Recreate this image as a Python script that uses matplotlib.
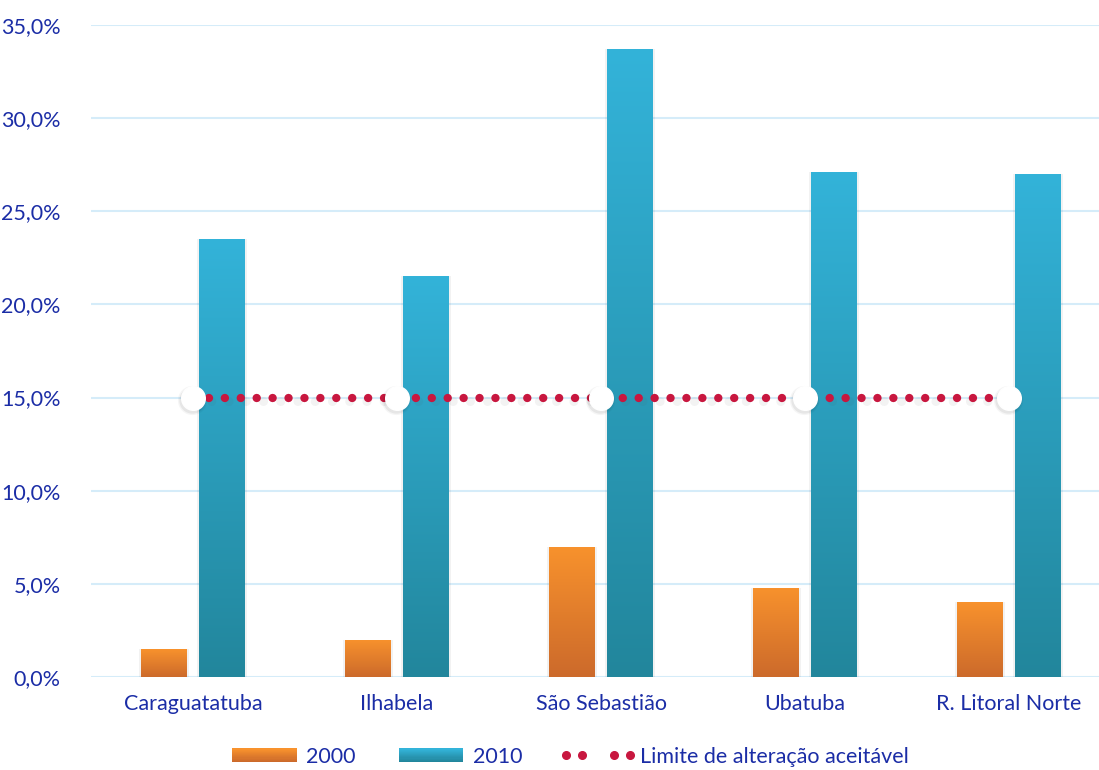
import numpy as np
import matplotlib.pyplot as plt
from matplotlib.patches import Rectangle
from matplotlib.legend_handler import HandlerBase
from matplotlib.lines import Line2D
from matplotlib.colors import LinearSegmentedColormap
from matplotlib.ticker import FuncFormatter

plt.rcParams['font.family'] = ['Lato', 'DejaVu Sans']

# Dados
municipios = ['Caraguatatuba', 'Ilhabela', 'São Sebastião', 'Ubatuba', 'R. Litoral Norte']
valores_2000 = [1.5, 2.0, 7.0, 4.8, 4.0]
valores_2010 = [23.5, 21.5, 33.7, 27.1, 27.0]
limite = [15.0, 15.0, 15.0, 15.0, 15.0]
rotulos_series = ['2000', '2010', 'Limite de alteração aceitável']

cor_texto = '#1B2DA6'
cor_grade = '#D5ECF9'
laranja = ('#F8922D', '#CC6A2B')   # topo, base
azul = ('#33B3D9', '#22869C')
vermelho = '#C8173F'

fig = plt.figure(figsize=(10.99, 7.70), dpi=100)
ax = fig.add_axes([91 / 1099, 93 / 770, 1020 / 1099, 652 / 770])

x = np.arange(len(municipios))
largura = 0.225
deslocamento = 0.144


def barra_gradiente(ax, xc, altura, cores):
    cmap = LinearSegmentedColormap.from_list('g', [cores[1], cores[0]])
    grad = np.linspace(0, 1, 256).reshape(-1, 1)
    x0 = xc - largura / 2
    # sombra leve nas laterais
    for dx in (-0.01, 0.01):
        sombra = Rectangle((x0 + dx, 0), largura, altura, facecolor='#000000',
                           alpha=0.05, edgecolor='none', zorder=2)
        ax.add_patch(sombra)
    img = ax.imshow(grad, extent=(x0, x0 + largura, 0, altura), origin='lower',
                    cmap=cmap, aspect='auto', zorder=3)
    ret = Rectangle((x0, 0), largura, altura, facecolor='none', edgecolor='none')
    ax.add_patch(ret)
    img.set_clip_path(ret)


for i in x:
    barra_gradiente(ax, i - deslocamento, valores_2000[i], laranja)
    barra_gradiente(ax, i + deslocamento, valores_2010[i], azul)

# Linha do limite: sombra, pontos vermelhos e marcadores brancos
estilo_pontos = (0, (0.01, 1.9))
ax.plot(x + 0.006, np.array(limite) - 0.2, color='#555555', alpha=0.07, lw=6.5,
        linestyle=estilo_pontos, dash_capstyle='round', zorder=4)
ax.plot(x, limite, color=vermelho, lw=6, linestyle=estilo_pontos,
        dash_capstyle='round', zorder=5)
for ms, a in ((21, 0.04), (19, 0.06)):
    ax.plot(x - 0.004, np.array(limite) - 0.15, 'o', ms=ms, color='#000000', alpha=a,
            mec='none', zorder=5)
ax.plot(x, limite, 'o', ms=17, color='white', mec='white', zorder=6)

ax.set_xlim(-0.5, 4.5)
ax.set_ylim(0, 35)
ax.set_yticks(np.arange(0, 36, 5))
ax.yaxis.set_major_formatter(FuncFormatter(lambda v, p: f'{v:.1f}%'.replace('.', ',')))
ax.set_xticks(x)
ax.set_xticklabels(municipios)
ax.grid(axis='y', color=cor_grade, lw=1.5, zorder=0)
ax.set_axisbelow(True)
for s in ax.spines.values():
    s.set_visible(False)
ax.tick_params(length=0, labelsize=15.5, labelcolor=cor_texto)
ax.tick_params(axis='y', pad=22)
ax.tick_params(axis='x', pad=12)


class HandlerGradiente(HandlerBase):
    def __init__(self, cores):
        super().__init__()
        self.cores = cores

    def create_artists(self, legend, orig, xd, yd, w, h, fontsize, trans):
        cmap = LinearSegmentedColormap.from_list('g', [self.cores[1], self.cores[0]])
        n = 12
        arts = []
        for k in range(n):
            r = Rectangle((-xd, -yd + h * k / n), w, h / n + 0.3, facecolor=cmap(k / (n - 1)),
                          edgecolor='none', transform=trans)
            arts.append(r)
        return arts


class HandlerLimite(HandlerBase):
    def create_artists(self, legend, orig, xd, yd, w, h, fontsize, trans):
        y = -yd + h / 2
        xs = -xd + np.linspace(0, w, 5)
        pts = Line2D(xs[[0, 1, 3, 4]], [y] * 4, ls='none', marker='o', ms=5.5,
                     color=vermelho, transform=trans)
        return [pts]


h2000 = Rectangle((0, 0), 1, 1)
h2010 = Rectangle((0, 0), 1, 1)
hlim = Line2D([], [])
fig.legend([h2000, h2010, hlim], rotulos_series, loc='lower center',
           bbox_to_anchor=(0.519, -0.021), ncol=3, frameon=False, fontsize=15.5,
           labelcolor=cor_texto, handlelength=3.0, handleheight=0.6,
           handletextpad=0.45, columnspacing=2.0,
           handler_map={h2000: HandlerGradiente(laranja), h2010: HandlerGradiente(azul),
                        hlim: HandlerLimite()})

fig.savefig('out.png', dpi=100)
